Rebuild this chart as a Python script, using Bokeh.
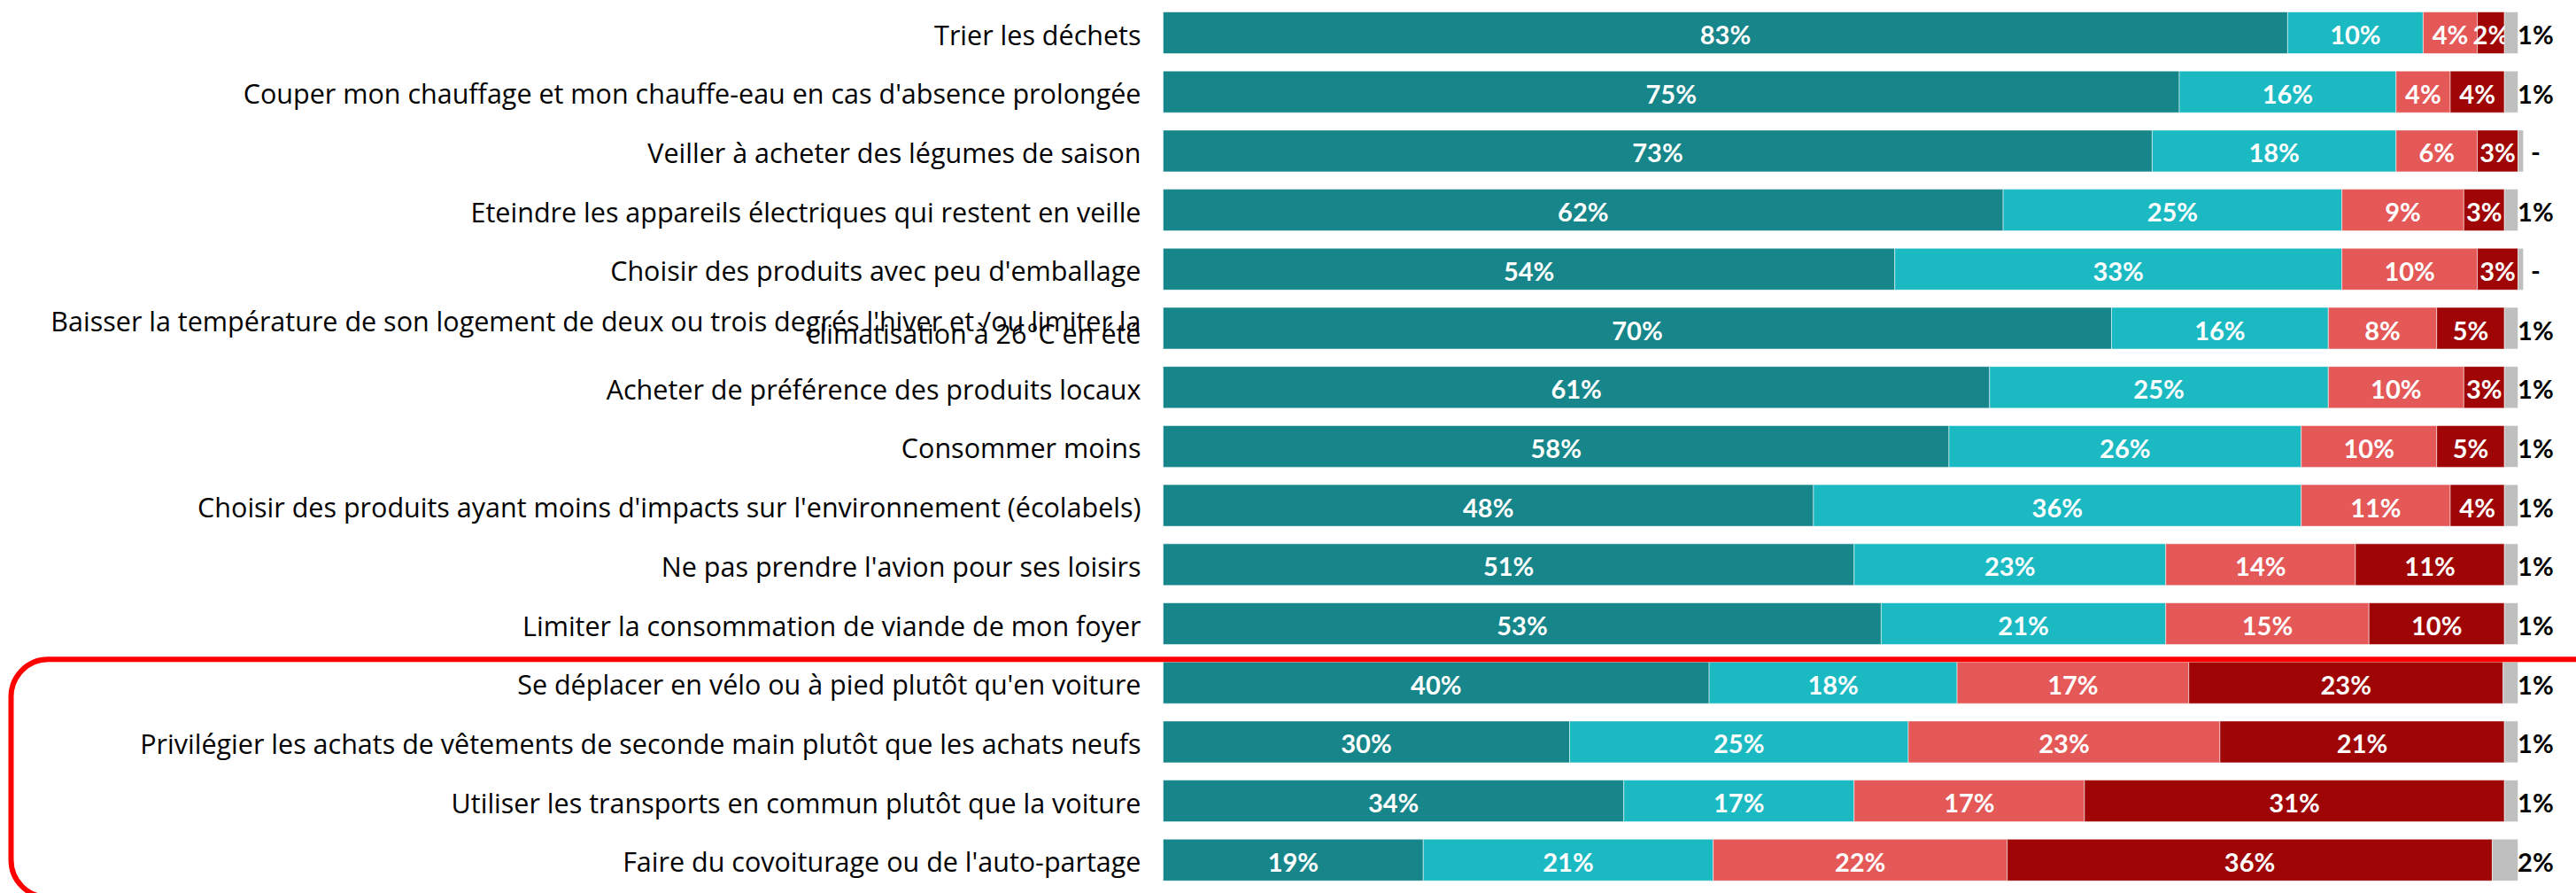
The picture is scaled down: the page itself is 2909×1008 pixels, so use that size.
import numpy as np
from bokeh.plotting import figure
from bokeh.models import ColumnDataSource, Range1d, BoxAnnotation
from bokeh.core.properties import value
from bokeh.embed import file_html
from bokeh.resources import INLINE

categories = [
    "Trier les déchets",
    "Couper mon chauffage et mon chauffe-eau en cas d'absence prolongée",
    "Veiller à acheter des légumes de saison",
    "Eteindre les appareils électriques qui restent en veille",
    "Choisir des produits avec peu d'emballage",
    "Baisser la température de son logement de deux ou trois degrés l'hiver et /ou limiter la\nclimatisation à 26°C en été",
    "Acheter de préférence des produits locaux",
    "Consommer moins",
    "Choisir des produits ayant moins d'impacts sur l'environnement (écolabels)",
    "Ne pas prendre l'avion pour ses loisirs",
    "Limiter la consommation de viande de mon foyer",
    "Se déplacer en vélo ou à pied plutôt qu'en voiture",
    "Privilégier les achats de vêtements de seconde main plutôt que les achats neufs",
    "Utiliser les transports en commun plutôt que la voiture",
    "Faire du covoiturage ou de l'auto-partage",
]

tout_a_fait = [83, 75, 73, 62, 54, 70, 61, 58, 48, 51, 53, 40.3, 30, 34, 19.2]
plutot = [10, 16, 18, 25, 33, 16, 25, 26, 36, 23, 21, 18.3, 25, 17, 21.4]
plutot_pas = [4, 4, 6, 9, 10, 8, 10, 10, 11, 14, 15, 17.1, 23, 17, 21.7]
pas_du_tout = [2, 4, 3, 3, 3, 5, 3, 5, 4, 11, 10, 23.2, 21, 31, 35.8]
nsp = [1, 1, 0.4, 1, 0.4, 1, 1, 1, 1, 1, 1, 1.1, 1, 1, 1.9]

series = [tout_a_fait, plutot, plutot_pas, pas_du_tout]
colors = ["#16868A", "#1BBAC3", "#E45857", "#A00505"]
nsp_color = "#BFBFBF"

n = len(categories)
rows = np.arange(n)

W, H = 2909, 1008
px_per_pct = 15.3
bar_x0 = 1313
row_h = 66.7
row0 = 36.5

p = figure(width=W, height=H, output_backend="svg", toolbar_location=None,
           x_range=Range1d(-bar_x0 / px_per_pct, (W - bar_x0) / px_per_pct),
           y_range=Range1d((n - 1) + (H - row0 - (n - 1) * row_h) / row_h, -row0 / row_h),
           min_border=0, outline_line_color=None)
p.axis.visible = False
p.grid.visible = False
p.background_fill_color = "white"
p.border_fill_color = "white"

bar_h = 47 / row_h
mid_off = 1.5 / row_h

left = np.zeros(n)
all_series = series + [nsp]
all_colors = colors + [nsp_color]
for k, (vals, col) in enumerate(zip(all_series, all_colors)):
    vals = np.array(vals, dtype=float)
    right = left + vals
    src = ColumnDataSource(dict(y=rows, left=left, right=right))
    p.hbar(y="y", left="left", right="right", height=bar_h, source=src,
           fill_color=col, line_color="white", line_alpha=0.5, line_width=1)
    if k < 4:
        lab = ColumnDataSource(dict(x=(left + right) / 2, y=rows + mid_off,
                                    t=[f"{round(v)}%" for v in vals]))
        p.text(x="x", y="y", text="t", source=lab, text_align="center",
               text_baseline="middle", text_color="white",
               text_font=value("Lato"), text_font_style="bold", text_font_size="29px")
    else:
        lab = ColumnDataSource(dict(x=np.full(n, 101.3), y=rows + mid_off,
                                    t=["-" if v < 0.5 else f"{round(v)}%" for v in vals]))
        p.text(x="x", y="y", text="t", source=lab, text_align="center",
               text_baseline="middle", text_color="black",
               text_font=value("Lato"), text_font_style="bold", text_font_size="29px")
    left = right

lx, ly, lt = [], [], []
for i, c in enumerate(categories):
    parts = c.split("\n")
    if len(parts) == 1:
        lx.append(-25 / px_per_pct); ly.append(i + mid_off); lt.append(c)
    else:
        lx.append(-25 / px_per_pct); ly.append(i - 9 / row_h); lt.append(parts[0])
        lx.append(-25 / px_per_pct); ly.append(i + 5 / row_h); lt.append(parts[1])
cat_src = ColumnDataSource(dict(x=lx, y=ly, t=lt))
p.text(x="x", y="y", text="t", source=cat_src, text_align="right",
       text_baseline="middle", text_color="black",
       text_font=value("Open Sans"), text_font_size="30.5px")

box = BoxAnnotation(left=(12 - bar_x0) / px_per_pct, right=112,
                    top=10.5 + 7 / row_h, bottom=(n - 1) + 42 / row_h,
                    fill_alpha=0, line_color="#FF0000", line_alpha=1.0, line_width=6,
                    border_radius=42)
p.add_layout(box)

open("out.html", "w").write(file_html(p, INLINE))
